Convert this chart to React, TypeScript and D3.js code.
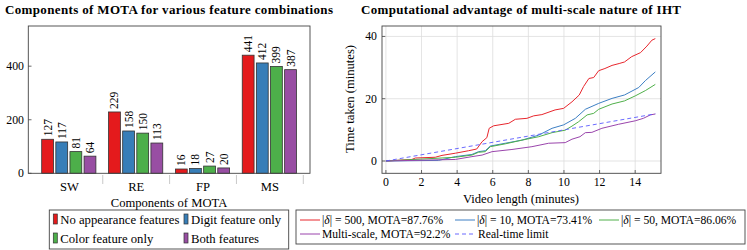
import * as d3 from 'd3';

// left chart: components of MOTA
const categories = ['SW', 'RE', 'FP', 'MS'];
const barSeries = ['No appearance features', 'Digit feature only', 'Color feature only', 'Both features'];
const barValues = [
  [127, 229, 16, 441],
  [117, 158, 18, 412],
  [81, 150, 27, 399],
  [64, 113, 20, 387],
];
const barColors = ['#e41a1c', '#377eb8', '#4daf4a', '#984ea3'];
const leftTicks = [0, 200, 400];

// right chart: time taken vs video length
const redLine = [[0, 0], [1.46, 0.5], [1.65, 0.96], [2.77, 1.2], [3.15, 1.8], [3.9, 2.5], [4.64, 3.3], [5.1, 3.85], [5.4, 6.2], [5.67, 7.5], [5.8, 10.5], [6.05, 11.3], [6.9, 12.1], [7.27, 13.4], [7.92, 13.7], [8.3, 14.5], [8.76, 14.9], [9.5, 16.4], [9.98, 16.9], [10.45, 19], [10.86, 21.2], [11.1, 23.9], [11.4, 26.5], [11.67, 26.8], [11.95, 29], [12.3, 29.7], [12.7, 30.7], [13.1, 31.3], [13.4, 31.8], [13.8, 33.5], [14.3, 34.8], [14.66, 36.9], [14.94, 38.8], [15.13, 39.3]];
const blueLine = [[0, 0], [2.96, 0.2], [3.9, 1.4], [4.83, 2.1], [5.2, 3.0], [5.58, 3.3], [5.86, 4.8], [6.7, 5.7], [7.64, 6.7], [8.58, 8.3], [9.33, 10.5], [9.98, 11.6], [10.64, 13.7], [11.2, 16.6], [11.95, 18.5], [12.7, 20.1], [13.4, 21.2], [14.2, 23.6], [14.57, 25.8], [15.13, 28.6]];
const greenLine = [[0, 0], [3.9, 1.2], [4.83, 1.9], [5.2, 2.8], [5.58, 3.0], [5.86, 4.6], [6.7, 5.5], [7.64, 6.7], [8.58, 7.8], [9.33, 9.1], [10.07, 9.9], [10.45, 11.2], [10.82, 12.6], [11.3, 14.8], [11.67, 15.3], [11.95, 16.6], [12.7, 18.3], [13.4, 19.3], [14.0, 20.9], [14.57, 22.6], [15.13, 24.6]];
const purpleLine = [[0, 0], [3.9, 0.5], [4.83, 1.4], [5.4, 1.9], [5.96, 3.0], [7.08, 3.7], [8.2, 4.6], [9.14, 5.7], [10.07, 5.9], [10.45, 7.0], [10.9, 7.8], [11.2, 9.1], [11.57, 9.2], [12.13, 10.5], [13.07, 11.8], [14.0, 12.9], [14.46, 13.7], [14.85, 14.8], [15.13, 15.1]];
const realTime = [[0, 0], [15.13, 15.13]];
const xTicksR = [0, 2, 4, 6, 8, 10, 12, 14];
const yTicksR = [0, 20, 40];

const lineSeries = [
  { data: redLine, color: '#e8262d', delta: '500', mota: '87.76%' },
  { data: blueLine, color: '#3d7fc4', delta: '10', mota: '73.41%' },
  { data: greenLine, color: '#50b04a', delta: '50', mota: '86.06%' },
  { data: purpleLine, color: '#9a45ac', delta: null, mota: '92.2%' },
];

const font = "'Liberation Serif', 'DejaVu Serif', 'Times New Roman', serif";
const frame = '#444';

export default function App() {
  // left geometry
  const yL = d3.scaleLinear().domain([0, 550]).range([173.3, 26]);
  const xL = d3.scaleBand().domain(categories).range([35.9, 303.3]);
  const xInner = d3.scaleBand().domain(barSeries).range([5.8, 60]).paddingInner(0.163);

  // right geometry
  const xR = d3.scaleLinear().domain([-0.22, 15.45]).range([382, 661]);
  const yR = d3.scaleLinear().domain([-3.95, 43.35]).range([173.3, 26]);
  const line = d3.line<number[]>().x(d => xR(d[0])).y(d => yR(d[1]));

  return (
    <svg width={747} height={250} style={{ position: 'absolute', left: 0, top: 0, fontFamily: font }}>
      <rect width={747} height={250} fill="#fff" />

      {/* ---------- left chart ---------- */}
      <text x={169} y={13.5} textAnchor="middle" fontWeight="bold" fontSize={13} textLength={328} lengthAdjust="spacing">Components of MOTA for various feature combinations</text>
      {categories.map((c, ci) => barSeries.map((s, si) => {
        const v = barValues[si][ci];
        const x = xL(c)! + xInner(s)!;
        const w = xInner.bandwidth();
        return (
          <g key={c + s}>
            <rect x={x} y={yL(v)} width={w} height={yL(0) - yL(v)} fill={barColors[si]} stroke="#333" strokeWidth={0.8} />
            <text transform={`translate(${x + w / 2 + 4},${yL(v) - 3}) rotate(-90)`} fontSize={11.5}>{v}</text>
          </g>
        );
      }))}
      <rect x={28.3} y={26} width={310 - 28.3} height={173.3 - 26} fill="none" stroke={frame} strokeWidth={0.9} />
      {leftTicks.map(t => (
        <g key={t}>
          <line x1={28.3} x2={31.5} y1={yL(t)} y2={yL(t)} stroke={frame} strokeWidth={0.8} />
          <text x={24} y={yL(t) + 4} textAnchor="end" fontSize={11.8}>{t}</text>
        </g>
      ))}
      {categories.map(c => (
        <g key={c}>
          <line x1={xL(c)! + xL.bandwidth()} x2={xL(c)! + xL.bandwidth()} y1={175} y2={184} stroke="#bbb" strokeWidth={0.8} />
          <text x={xL(c)! + xL.bandwidth() / 2} y={191} textAnchor="middle" fontSize={12.6}>{c}</text>
        </g>
      ))}
      <text x={169} y={207} textAnchor="middle" fontSize={12.6}>Components of MOTA</text>
      <rect x={49.3} y={210} width={288.7 - 49.3} height={39} fill="#fff" stroke={frame} strokeWidth={0.9} />
      {barSeries.map((s, i) => {
        const lx = i % 2 === 0 ? 53.3 : 184;
        const ly = i < 2 ? 214 : 233;
        return (
          <g key={s}>
            <rect x={lx} y={ly} width={4} height={10} fill={barColors[i]} stroke="#333" strokeWidth={0.7} />
            <text x={lx + 7} y={ly + 9.5} fontSize={12.7}>{s}</text>
          </g>
        );
      })}

      {/* ---------- right chart ---------- */}
      <text x={521} y={13.5} textAnchor="middle" fontWeight="bold" fontSize={13} textLength={320} lengthAdjust="spacing">Computational advantage of multi-scale nature of IHT</text>
      {xTicksR.map(t => (
        <line key={'gx' + t} x1={xR(t)} x2={xR(t)} y1={26} y2={173.3} stroke="#ddd" strokeWidth={0.8} />
      ))}
      {yTicksR.map(t => (
        <line key={'gy' + t} x1={382} x2={661} y1={yR(t)} y2={yR(t)} stroke="#ddd" strokeWidth={0.8} />
      ))}
      {lineSeries.map((s, i) => (
        <path key={i} d={line(s.data)!} fill="none" stroke={s.color} strokeWidth={1} />
      ))}
      <path d={line(realTime)!} fill="none" stroke="#5a5aff" strokeWidth={0.9} strokeDasharray="4 3" />
      <rect x={382} y={26} width={661 - 382} height={173.3 - 26} fill="none" stroke={frame} strokeWidth={0.9} />
      {xTicksR.map(t => (
        <g key={'tx' + t}>
          <line x1={xR(t)} x2={xR(t)} y1={173.3} y2={170} stroke={frame} strokeWidth={0.8} />
          <text x={xR(t)} y={186} textAnchor="middle" fontSize={11.8}>{t}</text>
        </g>
      ))}
      {yTicksR.map(t => (
        <g key={'ty' + t}>
          <line x1={382} x2={385.3} y1={yR(t)} y2={yR(t)} stroke={frame} strokeWidth={0.8} />
          <text x={377} y={yR(t) + 4} textAnchor="end" fontSize={11.8}>{t}</text>
        </g>
      ))}
      <text transform="translate(354,99) rotate(-90)" textAnchor="middle" fontSize={12.6}>Time taken (minutes)</text>
      <text x={521} y={203} textAnchor="middle" fontSize={12.6}>Video length (minutes)</text>

      <rect x={296} y={210} width={745 - 296} height={34} fill="#fff" stroke={frame} strokeWidth={0.9} />
      {lineSeries.map((s, i) => {
        const lx = [300, 455, 599, 300][i];
        const ly = i < 3 ? 220 : 234;
        return (
          <g key={'lg' + i}>
            <line x1={lx} x2={lx + 20} y1={ly} y2={ly} stroke={s.color} strokeWidth={1} />
            {s.delta ? (
              <text x={lx + 22} y={ly + 4} fontSize={11.6}>|<tspan fontStyle="italic">δ</tspan>| = {s.delta}, MOTA={s.mota}</text>
            ) : (
              <text x={lx + 22} y={ly + 4} fontSize={11.6}>Multi-scale, MOTA={s.mota}</text>
            )}
          </g>
        );
      })}
      <line x1={455} x2={473} y1={234} y2={234} stroke="#5a5aff" strokeWidth={0.9} strokeDasharray="4 3" />
      <text x={478} y={238} fontSize={11.6}>Real-time limit</text>
    </svg>
  );
}
